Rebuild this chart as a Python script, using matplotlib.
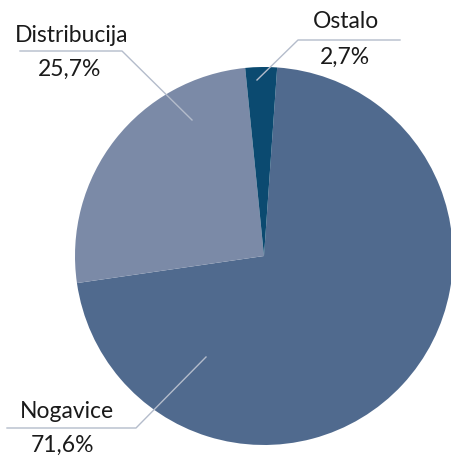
import matplotlib
matplotlib.use('Agg')
import matplotlib.pyplot as plt

# data
labels = ['Nogavice', 'Distribucija', 'Ostalo']
shares = [71.6, 25.7, 2.7]
colors = ['#506A8E', '#7B8AA7', '#0B4A70']

W, H = 451, 457
fig = plt.figure(figsize=(W / 100, H / 100), dpi=100)
ax = fig.add_axes([0, 0, 1, 1])

cx, cy, r = 264, H - 256, 189
ax.pie(shares, colors=colors, startangle=86, counterclock=False,
       center=(cx, cy), radius=r, frame=True,
       wedgeprops=dict(linewidth=0))
ax.set_xlim(0, W)
ax.set_ylim(0, H)
ax.set_aspect('equal')
ax.axis('off')

lc = '#B4BCCB'
font = dict(family='Lato', fontsize=16.5, color='#1A1A1A', ha='center', va='center')

def yy(v):
    return H - v

# Distribucija
ax.plot([20, 122, 192], [yy(51), yy(51), yy(120)], color=lc, lw=1)
ax.text(72, yy(36), labels[1], **font)
ax.text(70, yy(69), '25,7%', **font)

# Ostalo
ax.plot([257, 298, 400], [yy(80), yy(40), yy(40)], color=lc, lw=1)
ax.text(346, yy(22), labels[2], **font)
ax.text(345, yy(57), '2,7%', **font)

# Nogavice
ax.plot([7, 136, 206], [yy(428), yy(428), yy(357)], color=lc, lw=1)
ax.text(67, yy(412), labels[0], **font)
ax.text(63, yy(445), '71,6%', **font)

fig.savefig('out.png', dpi=100)
